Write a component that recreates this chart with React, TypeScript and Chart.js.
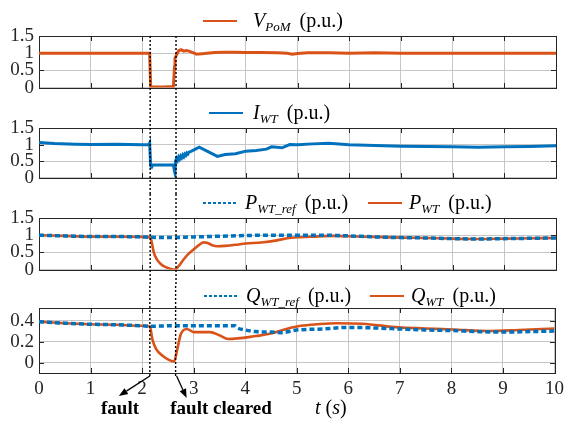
import React, { useEffect, useRef } from 'react';
import { Chart, registerables } from 'chart.js';
Chart.register(...registerables);

const ORANGE = '#D95319';
const BLUE = '#0072BD';
const FRAME = '#262626';
const GRID = '#c6c6c6';
const SERIF = '"Liberation Serif", "Times New Roman", serif';
Chart.defaults.font.family = SERIF;

const xTickValues = [0, 1, 2, 3, 4, 5, 6, 7, 8, 9, 10];
const puTicks = [0, 0.5, 1, 1.5];
const qTicks = [0, 0.2, 0.4];
const faultTime = 2.15;
const clearTime = 2.65;

// V_PoM
const tV = [0, 0.5, 1, 1.5, 2, 2.14, 2.16, 2.2, 2.4, 2.6, 2.62, 2.63, 2.66, 2.7, 2.75, 2.8, 2.85, 2.9, 2.95, 3.0, 3.05, 3.1, 3.2, 3.4, 3.6, 3.8, 4.0, 4.3, 4.6, 4.8, 4.9, 5.0, 5.2, 5.6, 6, 6.5, 7, 8, 9, 10];
const vPoM = [1.0, 1.0, 1.0, 1.0, 1.0, 1.0, 0.03, 0.02, 0.02, 0.03, 0.6, 0.85, 0.95, 1.07, 1.1, 1.06, 1.08, 1.06, 1.03, 1.0, 0.97, 0.98, 0.99, 1.02, 1.03, 1.03, 1.02, 1.02, 1.01, 1.0, 0.97, 0.99, 1.01, 1.01, 1.0, 1.01, 1.0, 1.0, 1.0, 1.0];

// I_WT
const tI = [0, 0.3, 0.7, 1.0, 1.5, 2.0, 2.12, 2.14, 2.16, 2.18, 2.2, 2.4, 2.6, 2.62, 2.63, 2.64, 2.66, 2.68, 2.7, 2.72, 2.74, 2.76, 2.78, 2.8, 2.82, 2.84, 2.86, 2.88, 2.9, 2.95, 3.1, 3.45, 3.6, 3.8, 4.0, 4.2, 4.4, 4.5, 4.7, 4.85, 5.0, 5.3, 5.6, 6.0, 6.5, 7.0, 7.5, 8.0, 8.5, 9.0, 9.5, 10];
const iWT = [1.06, 1.03, 1.01, 1.0, 1.01, 0.99, 0.99, 1.05, 0.35, 0.32, 0.38, 0.38, 0.38, 0.2, 0.14, 0.5, 0.58, 0.52, 0.62, 0.56, 0.65, 0.6, 0.68, 0.63, 0.71, 0.67, 0.74, 0.71, 0.77, 0.8, 0.92, 0.64, 0.7, 0.72, 0.8, 0.82, 0.86, 0.93, 0.9, 1.0, 0.99, 1.02, 1.04, 0.99, 0.97, 0.95, 0.94, 0.93, 0.92, 0.93, 0.94, 0.96];

// P_WT_ref and P_WT
const tPref = [0, 0.5, 1, 1.5, 2, 2.15, 2.5, 3, 3.5, 4, 4.5, 5, 5.5, 6, 6.5, 7, 7.5, 8, 8.5, 9, 9.5, 10];
const pRef = [1.0, 0.98, 0.96, 0.96, 0.95, 0.94, 0.93, 0.95, 0.97, 0.99, 1.0, 1.0, 1.0, 0.98, 0.95, 0.93, 0.92, 0.9, 0.89, 0.9, 0.91, 0.92];
const tPwt = [0, 0.5, 1, 1.5, 2, 2.15, 2.18, 2.22, 2.28, 2.35, 2.45, 2.55, 2.63, 2.7, 2.8, 2.9, 3.0, 3.1, 3.18, 3.25, 3.35, 3.45, 3.6, 3.8, 4.0, 4.3, 4.6, 4.8, 5.0, 5.3, 5.7, 6, 6.5, 7, 7.5, 8, 8.5, 9, 9.5, 10];
const pWT = [1.0, 0.98, 0.96, 0.96, 0.95, 0.94, 0.8, 0.5, 0.3, 0.17, 0.07, 0.02, 0.0, 0.1, 0.3, 0.47, 0.6, 0.72, 0.79, 0.78, 0.71, 0.68, 0.69, 0.72, 0.76, 0.79, 0.85, 0.91, 0.94, 0.96, 0.98, 0.97, 0.95, 0.93, 0.92, 0.9, 0.89, 0.9, 0.91, 0.92];

// Q_WT_ref and Q_WT
const tQref = [0, 0.5, 1, 1.5, 2, 2.15, 2.5, 3, 3.5, 3.8, 3.85, 4.0, 4.2, 4.5, 4.7, 5.0, 5.5, 6, 6.5, 7, 7.5, 8, 8.5, 9, 9.5, 10];
const qRef = [0.39, 0.375, 0.365, 0.36, 0.35, 0.345, 0.35, 0.35, 0.35, 0.35, 0.33, 0.31, 0.295, 0.29, 0.285, 0.31, 0.32, 0.335, 0.33, 0.32, 0.31, 0.305, 0.295, 0.29, 0.295, 0.3];
const tQwt = [0, 0.5, 1, 1.5, 2, 2.15, 2.2, 2.27, 2.41, 2.5, 2.62, 2.68, 2.75, 2.87, 3.0, 3.1, 3.32, 3.5, 3.67, 4.17, 4.52, 4.8, 5.08, 5.4, 5.78, 6.27, 6.98, 7.5, 8.03, 8.73, 9.3, 10];
const qWT = [0.39, 0.375, 0.365, 0.36, 0.35, 0.345, 0.22, 0.13, 0.06, 0.03, 0.01, 0.12, 0.27, 0.32, 0.29, 0.29, 0.29, 0.26, 0.225, 0.25, 0.28, 0.32, 0.35, 0.365, 0.375, 0.37, 0.335, 0.325, 0.315, 0.3, 0.31, 0.325];

const pts = (t: number[], v: number[]) => t.map((x, i) => ({ x, y: v[i] }));

type LegendItem = { color: string; dashed: boolean; lineX0: number; lineX1: number; textX: number; main: string; sub: string };

type PanelCfg = {
  top: number;
  height: number;
  padTop: number;
  padBottom: number;
  yMin: number;
  yMax: number;
  yTicks: number[];
  showX: boolean;
  legendY: number;
  legend: LegendItem[];
  dotFromArea: boolean;
  dotToArea: boolean;
  datasets: any[];
};

function drawLabel(ctx: CanvasRenderingContext2D, x: number, baseY: number, main: string, sub: string) {
  ctx.fillStyle = '#000';
  ctx.textAlign = 'left';
  ctx.textBaseline = 'alphabetic';
  ctx.font = `italic 20px ${SERIF}`;
  ctx.fillText(main, x, baseY);
  let w = ctx.measureText(main).width;
  ctx.font = `italic 13px ${SERIF}`;
  ctx.fillText(sub, x + w, baseY + 4);
  w += ctx.measureText(sub).width;
  ctx.font = `20px ${SERIF}`;
  ctx.fillText('(p.u.)', x + w + 9, baseY);
}

function drawArrow(ctx: CanvasRenderingContext2D, x0: number, y0: number, x1: number, y1: number) {
  ctx.strokeStyle = '#000';
  ctx.fillStyle = '#000';
  ctx.lineWidth = 1.3;
  ctx.setLineDash([]);
  const ang = Math.atan2(y1 - y0, x1 - x0);
  const hl = 9;
  const hw = 3.5;
  const bx = x1 - hl * Math.cos(ang);
  const by = y1 - hl * Math.sin(ang);
  ctx.beginPath();
  ctx.moveTo(x0, y0);
  ctx.lineTo(bx, by);
  ctx.stroke();
  ctx.beginPath();
  ctx.moveTo(x1, y1);
  ctx.lineTo(bx + hw * Math.sin(ang), by - hw * Math.cos(ang));
  ctx.lineTo(bx - hw * Math.sin(ang), by + hw * Math.cos(ang));
  ctx.closePath();
  ctx.fill();
}

function makeOverlay(cfg: PanelCfg, idx: number) {
  return {
    id: 'overlay' + idx,
    beforeDatasetsDraw(chart: any) {
      const { ctx, chartArea: a, scales } = chart;
      const L = Math.round(a.left), T = Math.round(a.top), R = Math.round(a.right), B = Math.round(a.bottom);
      ctx.save();
      ctx.strokeStyle = FRAME;
      ctx.lineWidth = 1;
      ctx.setLineDash([]);
      ctx.beginPath();
      for (const v of xTickValues) {
        const px = Math.round(scales.x.getPixelForValue(v)) + 0.5;
        ctx.moveTo(px, T);
        ctx.lineTo(px, T + 5);
        ctx.moveTo(px, B);
        ctx.lineTo(px, B - 5);
      }
      for (const v of cfg.yTicks) {
        const py = Math.round(scales.y.getPixelForValue(v)) + 0.5;
        ctx.moveTo(L, py);
        ctx.lineTo(L + 5, py);
        ctx.moveTo(R, py);
        ctx.lineTo(R - 5, py);
      }
      ctx.stroke();
      ctx.strokeRect(L + 0.5, T + 0.5, R - L, B - T);
      ctx.restore();
    },
    afterDatasetsDraw(chart: any) {
      const { ctx, chartArea: a, scales, height } = chart;
      ctx.save();
      ctx.strokeStyle = '#000';
      ctx.lineWidth = 1.4;
      ctx.setLineDash([2, 2]);
      const y0 = cfg.dotFromArea ? a.top : 0;
      const y1 = cfg.dotToArea ? a.bottom + 3 : height;
      const fx = scales.x.getPixelForValue(faultTime);
      const cx = scales.x.getPixelForValue(clearTime);
      for (const px of [fx, cx]) {
        ctx.beginPath();
        ctx.moveTo(px, y0);
        ctx.lineTo(px, y1);
        ctx.stroke();
      }
      ctx.setLineDash([]);
      const ly = cfg.legendY;
      for (const it of cfg.legend) {
        ctx.strokeStyle = it.color;
        if (it.dashed) {
          ctx.lineWidth = 2;
          ctx.setLineDash([3, 2]);
        } else {
          ctx.lineWidth = 2.2;
          ctx.setLineDash([]);
        }
        ctx.beginPath();
        ctx.moveTo(it.lineX0, ly);
        ctx.lineTo(it.lineX1, ly);
        ctx.stroke();
        ctx.setLineDash([]);
        drawLabel(ctx, it.textX, ly + 6, it.main, it.sub);
      }
      if (cfg.showX) {
        const baseY = a.bottom + 3;
        drawArrow(ctx, fx, baseY, fx - 31, baseY + 20);
        drawArrow(ctx, cx + 1, baseY, cx + 11, baseY + 22);
        ctx.fillStyle = '#000';
        ctx.textBaseline = 'alphabetic';
        ctx.textAlign = 'center';
        ctx.font = `bold 19px ${SERIF}`;
        const ty = a.bottom + 41;
        ctx.fillText('fault', 120, ty);
        ctx.fillText('fault cleared', 221, ty);
        ctx.textAlign = 'left';
        let x = 315;
        const parts: [string, boolean][] = [['t', true], [' (', false], ['s', true], [')', false]];
        for (const [s, it] of parts) {
          ctx.font = `${it ? 'italic ' : ''}20px ${SERIF}`;
          ctx.fillText(s, x, ty);
          x += ctx.measureText(s).width;
        }
      }
      ctx.restore();
    },
  };
}

const panels: PanelCfg[] = [
  {
    top: 0, height: 104, padTop: 36, padBottom: 2, yMin: 0, yMax: 1.5, yTicks: puTicks, showX: false,
    legendY: 21, dotFromArea: true, dotToArea: false,
    legend: [{ color: ORANGE, dashed: false, lineX0: 203, lineX1: 237, textX: 253, main: 'V', sub: 'PoM' }],
    datasets: [{ data: pts(tV, vPoM), borderColor: ORANGE, borderWidth: 3, tension: 0 }],
  },
  {
    top: 104, height: 90, padTop: 24, padBottom: 2, yMin: 0, yMax: 1.5, yTicks: puTicks, showX: false,
    legendY: 9, dotFromArea: false, dotToArea: false,
    legend: [{ color: BLUE, dashed: false, lineX0: 209, lineX1: 243, textX: 253, main: 'I', sub: 'WT' }],
    datasets: [{ data: pts(tI, iWT), borderColor: BLUE, borderWidth: 3, tension: 0 }],
  },
  {
    top: 194, height: 92, padTop: 24, padBottom: 3, yMin: 0, yMax: 1.5, yTicks: puTicks, showX: false,
    legendY: 9, dotFromArea: false, dotToArea: false,
    legend: [
      { color: BLUE, dashed: true, lineX0: 203, lineX1: 238, textX: 245, main: 'P', sub: 'WT_ref' },
      { color: ORANGE, dashed: false, lineX0: 368, lineX1: 402, textX: 409, main: 'P', sub: 'WT' },
    ],
    datasets: [
      { data: pts(tPwt, pWT), borderColor: ORANGE, borderWidth: 2.6, cubicInterpolationMode: 'monotone', order: 2 },
      { data: pts(tPref, pRef), borderColor: BLUE, borderWidth: 3.5, borderDash: [5, 3], cubicInterpolationMode: 'monotone', order: 1 },
    ],
  },
  {
    top: 286, height: 137, padTop: 22, padBottom: 0, yMin: -0.1, yMax: 0.52, yTicks: qTicks, showX: true,
    legendY: 10, dotFromArea: false, dotToArea: true,
    legend: [
      { color: BLUE, dashed: true, lineX0: 204, lineX1: 238, textX: 246, main: 'Q', sub: 'WT_ref' },
      { color: ORANGE, dashed: false, lineX0: 370, lineX1: 404, textX: 411, main: 'Q', sub: 'WT' },
    ],
    datasets: [
      { data: pts(tQwt, qWT), borderColor: ORANGE, borderWidth: 2.6, cubicInterpolationMode: 'monotone', order: 2 },
      { data: pts(tQref, qRef), borderColor: BLUE, borderWidth: 3.5, borderDash: [5, 3], cubicInterpolationMode: 'monotone', order: 1 },
    ],
  },
];

function Panel({ cfg, idx }: { cfg: PanelCfg; idx: number }) {
  const ref = useRef<HTMLCanvasElement | null>(null);
  useEffect(() => {
    if (!ref.current) return;
    const tickFont = { family: SERIF, size: 19, style: 'normal' as const, weight: 'normal' as const };
    const chart = new Chart(ref.current, {
      type: 'line',
      data: { datasets: cfg.datasets.map((d) => ({ ...d, pointRadius: 0, fill: false })) },
      options: {
        animation: false,
        responsive: false,
        maintainAspectRatio: false,
        devicePixelRatio: 1,
        layout: { padding: { top: cfg.padTop, bottom: cfg.padBottom, left: 0, right: 13 } },
        plugins: { legend: { display: false }, tooltip: { enabled: false } },
        scales: {
          x: {
            type: 'linear',
            min: 0,
            max: 10,
            afterBuildTicks: (s: any) => { s.ticks = xTickValues.map((v) => ({ value: v })); },
            afterFit: (s: any) => { s.height = cfg.showX ? 50 : 0; },
            grid: { color: GRID, drawTicks: false, lineWidth: 1 },
            border: { display: false },
            ticks: { display: cfg.showX, autoSkip: false, padding: 5, font: tickFont, color: FRAME, maxRotation: 0, callback: (v: any) => String(v) },
          },
          y: {
            type: 'linear',
            min: cfg.yMin,
            max: cfg.yMax,
            afterBuildTicks: (s: any) => { s.ticks = cfg.yTicks.map((v) => ({ value: v })); },
            afterFit: (s: any) => { s.width = 39; },
            grid: { color: GRID, drawTicks: false, lineWidth: 1 },
            border: { display: false },
            ticks: { autoSkip: false, padding: 5, font: tickFont, color: FRAME, callback: (v: any) => String(v) },
          },
        },
      } as any,
      plugins: [makeOverlay(cfg, idx)],
    });
    return () => chart.destroy();
  }, [cfg, idx]);
  return (
    <canvas
      ref={ref}
      width={569}
      height={cfg.height}
      style={{ position: 'absolute', left: 0, top: cfg.top, width: 569, height: cfg.height, display: 'block' }}
    />
  );
}

export default function App() {
  return (
    <div style={{ position: 'fixed', left: 0, top: 0, width: 569, height: 423, background: '#fff', overflow: 'hidden' }}>
      {panels.map((p, i) => (
        <Panel key={i} cfg={p} idx={i} />
      ))}
    </div>
  );
}
